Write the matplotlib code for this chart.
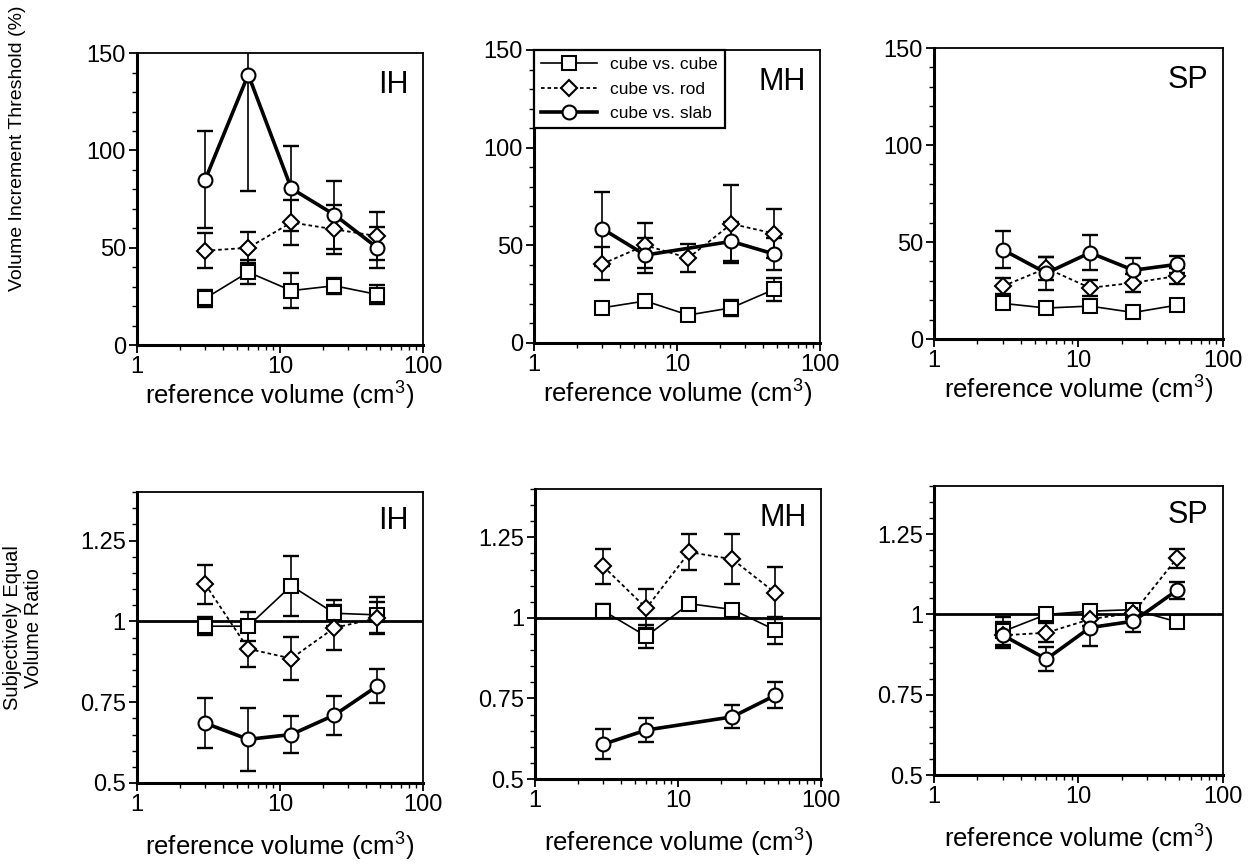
import numpy as np
import matplotlib
matplotlib.use("Agg")
import matplotlib.pyplot as plt
from matplotlib.ticker import MultipleLocator, LogLocator, NullFormatter

plt.rcParams["font.family"] = ["Liberation Sans", "DejaVu Sans"]
plt.rcParams["mathtext.fontset"] = "custom"
plt.rcParams["mathtext.rm"] = "Liberation Sans"

nan = np.nan

# reference volumes (cm^3)
volumes = [3, 6, 12, 24, 48]
subjects = ["IH", "MH", "SP"]
series_names = ["cube vs. cube", "cube vs. rod", "cube vs. slab"]

# volume increment threshold (%), rows: cube / rod / slab
thr_IH = [[24, 37.5, 28, 30.5, 26], [48.5, 50, 63, 59.5, 56], [85, 139, 80.5, 67, 50]]
thr_IH_err = [[4.5, 6, 9, 4, 5], [9, 8, 11.5, 12.5, 12.5], [25, 60, 22, 17.5, 10.5]]
thr_MH = [[18, 21.5, 14.3, 18, 27.5], [40.5, 50, 43.5, 61, 56], [58.5, 45, nan, 52, 45.5]]
thr_MH_err = [[2, 3, 1, 4, 6], [8.5, 11.5, 7, 20, 12.5], [19, 9, nan, 10, 8]]
thr_SP = [[18.4, 16, 17, 13.7, 17.5], [27.3, 36.5, 26.4, 29, 32.5], [46, 34, 44.5, 35.5, 38.5]]
thr_SP_err = [[3, 1, 2, 1, 1], [4, 6, 4, 4.5, 4], [9.5, 8.5, 9, 6.5, 4.5]]

# subjectively equal volume ratio, rows: cube / rod / slab
ratio_IH = [[0.985, 0.985, 1.11, 1.025, 1.02], [1.115, 0.915, 0.885, 0.98, 1.01], [0.685, 0.635, 0.65, 0.71, 0.80]]
ratio_IH_err = [[0.027, 0.045, 0.093, 0.04, 0.055], [0.06, 0.055, 0.066, 0.07, 0.05], [0.078, 0.097, 0.058, 0.06, 0.052]]
ratio_MH = [[1.022, 0.943, 1.044, 1.026, 0.962], [1.16, 1.03, 1.204, 1.182, 1.077], [0.608, 0.652, nan, 0.693, 0.76]]
ratio_MH_err = [[0.02, 0.035, 0.012, 0.015, 0.042], [0.055, 0.06, 0.055, 0.078, 0.08], [0.047, 0.037, nan, 0.036, 0.04]]
ratio_SP = [[0.947, 1.0, 1.01, 1.015, 0.977], [0.935, 0.943, 0.985, 1.005, 1.175], [0.935, 0.861, 0.959, 0.979, 1.075]]
ratio_SP_err = [[0.045, 0.01, 0.015, 0.015, 0.006], [0.03, 0.03, 0.02, 0.02, 0.03], [0.04, 0.037, 0.057, 0.035, 0.026]]

thr_data = [(thr_IH, thr_IH_err), (thr_MH, thr_MH_err), (thr_SP, thr_SP_err)]
ratio_data = [(ratio_IH, ratio_IH_err), (ratio_MH, ratio_MH_err), (ratio_SP, ratio_SP_err)]

styles = [
    dict(ls="-", lw=1.2, marker="s", ms=10),
    dict(ls=(0, (2, 1.6)), lw=1.3, marker="D", ms=8.5),
    dict(ls="-", lw=2.6, marker="o", ms=10),
]

fig = plt.figure(figsize=(12.51, 8.65), dpi=100)

top_rects = [[0.1095, 0.601, 0.2286, 0.3376], [0.4269, 0.6035, 0.2286, 0.3387], [0.7466, 0.608, 0.231, 0.3365]]
bot_rects = [[0.1095, 0.0948, 0.2286, 0.3364], [0.4277, 0.0994, 0.2286, 0.3353], [0.7466, 0.104, 0.231, 0.3342]]


def style_axes(ax, pad):
    ax.set_xscale("log")
    ax.set_xlim(1, 100)
    ax.set_xticks([1, 10, 100])
    ax.set_xticklabels(["1", "10", "100"])
    ax.xaxis.set_minor_locator(LogLocator(base=10, subs=np.arange(2, 10)))
    ax.xaxis.set_minor_formatter(NullFormatter())
    for s in ["left", "bottom"]:
        ax.spines[s].set_linewidth(2.2)
    for s in ["top", "right"]:
        ax.spines[s].set_linewidth(1.3)
    ax.tick_params(which="major", direction="out", length=6, width=1.3, labelsize=17, pad=2)
    ax.tick_params(which="minor", direction="out", length=3.5, width=1.0)
    ax.set_xlabel("reference volume (cm$^3$)", fontsize=18.5, labelpad=pad)


def draw_series(ax, data, errs):
    handles = []
    x = np.array(volumes, dtype=float)
    for y, e, st in zip(data, errs, styles):
        y = np.array(y, dtype=float)
        e = np.array(e, dtype=float)
        ok = ~np.isnan(y)
        ax.errorbar(x[ok], y[ok], yerr=e[ok], fmt="none", ecolor="k",
                    elinewidth=1.2, capsize=6, capthick=1.7, zorder=2)
        h, = ax.plot(x[ok], y[ok], color="k", ls=st["ls"], lw=st["lw"],
                     marker=st["marker"], ms=st["ms"], mfc="white", mec="k",
                     mew=1.5, zorder=3)
        handles.append(h)
    return handles


for i, subj in enumerate(subjects):
    # threshold row
    ax = fig.add_axes(top_rects[i])
    style_axes(ax, 0)
    ax.set_ylim(0, 150)
    ax.set_yticks([0, 50, 100, 150])
    ax.yaxis.set_minor_locator(MultipleLocator(10))
    handles = draw_series(ax, *thr_data[i])
    ax.text(0.95, 0.89, subj, transform=ax.transAxes, ha="right", va="center", fontsize=22)
    if subj == "MH":
        leg = ax.legend(handles, series_names, loc="upper left", bbox_to_anchor=(0, 1),
                        borderaxespad=0, fancybox=False, edgecolor="k", fontsize=12.5,
                        handlelength=3.2, handletextpad=0.8, borderpad=0.4,
                        labelspacing=0.55, framealpha=1)
        leg.get_frame().set_linewidth(1.6)

    # ratio row
    ax = fig.add_axes(bot_rects[i])
    style_axes(ax, 9)
    ax.set_ylim(0.5, 1.4)
    ax.set_yticks([0.5, 0.75, 1, 1.25])
    ax.set_yticklabels(["0.5", "0.75", "1", "1.25"])
    ax.yaxis.set_minor_locator(MultipleLocator(0.05))
    ax.axhline(1, color="k", lw=2.0, zorder=1)
    draw_series(ax, *ratio_data[i])
    ax.text(0.95, 0.9, subj, transform=ax.transAxes, ha="right", va="center", fontsize=22)

fig.text(0.0136, 0.829, "Volume Increment Threshold (%)", rotation=90, ha="center", va="center",
         fontsize=14, family=["Liberation Sans Narrow", "Liberation Sans"])
fig.text(0.0185, 0.274, "Subjectively Equal\nVolume Ratio", rotation=90, ha="center", va="center",
         fontsize=14.5, linespacing=1.1, family=["Liberation Sans Narrow", "Liberation Sans"])

fig.savefig("out.png", dpi=100)
